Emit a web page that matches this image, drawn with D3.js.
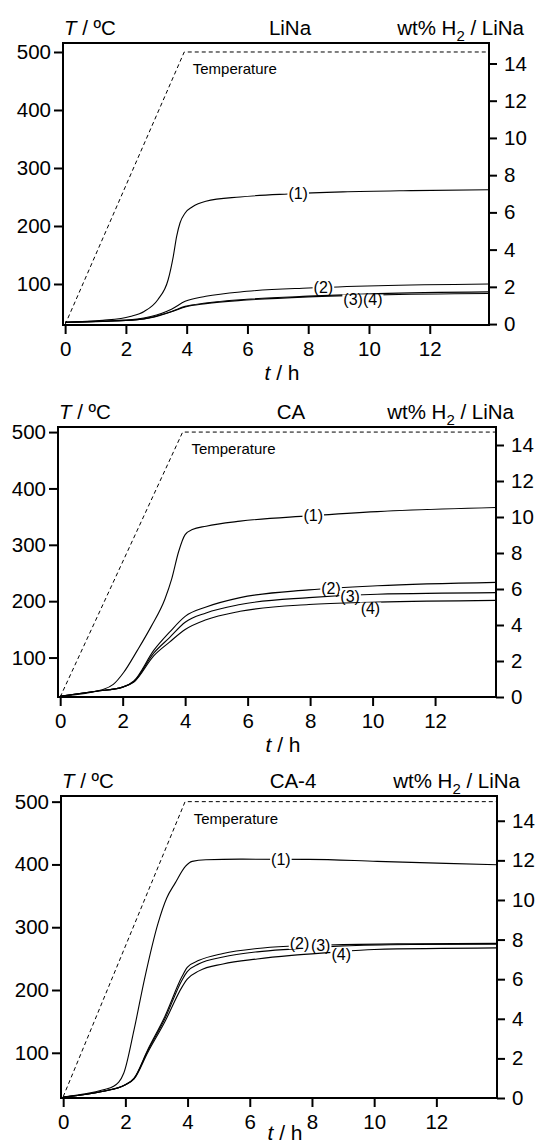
<!DOCTYPE html>
<html lang="en">
<head>
<meta charset="UTF-8">
<script src="https://d3js.org/d3.v7.min.js"></script>
<title>H2 uptake LiNa / CA / CA-4</title>
<style>
  body { margin: 0; background: #fff; }
  svg text { font-family: "Liberation Sans", Arial, Helvetica, sans-serif; fill: #000; }
  .axis path { display: none; }
  .axis line { stroke: #000; stroke-width: 2; }
  .axis text { font-size: 20.5px; }
  .curve { fill: none; stroke: #000; stroke-width: 1.1; }
  .temp { fill: none; stroke: #000; stroke-width: 1; stroke-dasharray: 4 3; }
</style>
</head>
<body>
<div id="chart"></div>
<script>
// tick values
const timeTicks = [0, 2, 4, 6, 8, 10, 12];
const tempTicks = [100, 200, 300, 400, 500];
const wtTicks = [0, 2, 4, 6, 8, 10, 12, 14];

// temperature program (t in h, T in C)
const tempTime = [0, 3.92, 13.95];
const tempValue = [30, 500, 500];

// LiNa, wt% H2 vs t
const linaCurve1 = [[0,0.1],[1.24,0.2],[2.14,0.41],[2.6,0.68],[3.05,1.31],[3.39,2.38],[3.56,3.64],[3.67,4.71],[3.78,5.43],[3.95,5.97],[4.18,6.29],[4.63,6.6],[5.76,6.83],[7.34,6.99],[9.14,7.1],[11.4,7.17],[13.95,7.22]];
const linaCurve2 = [[0,0.1],[1.24,0.16],[2.37,0.27],[2.82,0.41],[3.5,0.8],[3.95,1.22],[4.63,1.49],[5.98,1.76],[8.0,1.94],[10.3,2.06],[13.95,2.15]];
const linaCurve3 = [[0,0.1],[1.24,0.15],[2.37,0.24],[2.82,0.36],[3.5,0.68],[3.95,0.95],[4.63,1.13],[5.98,1.33],[8.0,1.5],[10.3,1.64],[13.95,1.73]];
const linaCurve4 = [[0,0.1],[1.24,0.14],[2.37,0.23],[2.82,0.34],[3.5,0.66],[3.95,0.92],[4.63,1.1],[5.98,1.29],[8.0,1.46],[10.3,1.57],[13.95,1.64]];
const linaLabels = [["(1)",7.67,7.02],["(2)",8.5,1.97],["(3)(4)",9.8,1.3]];

// CA
const caCurve1 = [[0,0.04],[1.37,0.42],[1.7,0.7],[2.03,1.36],[2.47,2.59],[2.91,3.91],[3.35,5.43],[3.57,6.56],[3.79,8.07],[4.0,9.02],[4.23,9.3],[4.67,9.49],[5.76,9.77],[7.96,10.06],[10.15,10.3],[13.95,10.53]];
const caCurve2 = [[0,0.04],[1.15,0.32],[2.0,0.55],[2.36,0.89],[3.0,2.6],[3.5,3.6],[4.0,4.48],[4.67,5.0],[5.76,5.52],[7.96,5.95],[10.15,6.18],[13.95,6.37]];
const caCurve3 = [[0,0.04],[1.15,0.32],[2.0,0.55],[2.36,0.86],[3.0,2.45],[3.5,3.3],[4.0,4.15],[4.67,4.67],[5.76,5.14],[7.96,5.52],[10.15,5.71],[13.95,5.8]];
const caCurve4 = [[0,0.04],[1.15,0.32],[2.0,0.55],[2.36,0.83],[3.0,2.3],[3.5,3.05],[4.0,3.75],[4.67,4.29],[5.76,4.76],[7.96,5.14],[10.15,5.27],[13.95,5.37]];
const caLabels = [["(1)",8.1,10.08],["(2)",8.67,6.04],["(3)",9.28,5.6],["(4)",9.93,4.95]];

// CA-4
const ca4Curve1 = [[0,0.05],[1.29,0.42],[1.62,0.59],[1.95,1.26],[2.28,3.45],[2.61,5.97],[3.05,8.82],[3.33,10.1],[3.6,10.85],[3.93,11.7],[4.15,11.95],[4.59,12.03],[5.69,12.06],[7.9,12.05],[10.1,11.95],[12.3,11.85],[13.95,11.78]];
const ca4Curve2 = [[0,0.05],[1.29,0.34],[2.0,0.67],[2.28,1.0],[2.72,2.44],[3.27,4.12],[3.82,6.13],[3.99,6.6],[4.37,6.95],[5.14,7.3],[6.24,7.55],[7.35,7.67],[9.0,7.75],[11.2,7.79],[13.95,7.81]];
const ca4Curve3 = [[0,0.05],[1.29,0.34],[2.0,0.67],[2.28,0.98],[2.72,2.38],[3.27,4.0],[3.82,5.95],[3.99,6.38],[4.37,6.78],[5.14,7.12],[6.24,7.38],[7.35,7.52],[9.0,7.68],[11.2,7.75],[13.95,7.77]];
const ca4Curve4 = [[0,0.05],[1.29,0.34],[2.0,0.67],[2.28,0.96],[2.72,2.3],[3.27,3.85],[3.82,5.6],[3.99,6.0],[4.37,6.42],[5.14,6.77],[6.24,7.02],[7.35,7.2],[8.5,7.34],[10.0,7.5],[13.95,7.58]];
const ca4Labels = [["(1)",7.0,12.05],["(2)",7.6,7.8],["(3)",8.28,7.7],["(4)",8.94,7.27]];

const panels = [
  {name: "LiNa", curves: [linaCurve1, linaCurve2, linaCurve3, linaCurve4], labels: linaLabels,
   x0: 63, x1: 489, y0: 43, y1: 325, tDom: [29.3, 515.5], wDom: [-0.05, 15.1], titleEnd: 524, xtDy: 55},
  {name: "CA", curves: [caCurve1, caCurve2, caCurve3, caCurve4], labels: caLabels,
   x0: 58, x1: 496, y0: 427, y1: 697, tDom: [30, 509], wDom: [0, 15.0], titleEnd: 514, xtDy: 55},
  {name: "CA-4", curves: [ca4Curve1, ca4Curve2, ca4Curve3, ca4Curve4], labels: ca4Labels,
   x0: 61, x1: 497, y0: 796, y1: 1098, tDom: [28, 509], wDom: [0, 15.25], titleEnd: 520, xtDy: 42}
];

const svg = d3.select("#chart").append("svg")
  .attr("width", 538).attr("height", 1146);

panels.forEach(function (p) {
  const g = svg.append("g");
  const x = d3.scaleLinear().domain([-0.07, 13.95]).range([p.x0, p.x1]);
  const yT = d3.scaleLinear().domain(p.tDom).range([p.y1, p.y0]);
  const yW = d3.scaleLinear().domain(p.wDom).range([p.y1, p.y0]);

  // axes
  g.append("g").attr("class", "axis")
    .attr("transform", "translate(" + p.x0 + ",0)")
    .call(d3.axisLeft(yT).tickValues(tempTicks).tickSize(9).tickPadding(3).tickSizeOuter(0));
  g.append("g").attr("class", "axis")
    .attr("transform", "translate(" + p.x1 + ",0)")
    .call(d3.axisRight(yW).tickValues(wtTicks).tickSize(8).tickPadding(7).tickSizeOuter(0));
  g.append("g").attr("class", "axis")
    .attr("transform", "translate(0," + p.y1 + ")")
    .call(d3.axisBottom(x).tickValues(timeTicks).tickSize(9).tickPadding(7).tickSizeOuter(0));

  // frame
  g.append("rect")
    .attr("x", p.x0).attr("y", p.y0)
    .attr("width", p.x1 - p.x0).attr("height", p.y1 - p.y0)
    .attr("fill", "none").attr("stroke", "#000").attr("stroke-width", 2);

  // temperature program
  const tLine = d3.line().x(function (d) { return x(d[0]); }).y(function (d) { return yT(d[1]); });
  g.append("path").attr("class", "temp")
    .attr("d", tLine(tempTime.map(function (t, i) { return [t, tempValue[i]]; })));
  g.append("text")
    .attr("x", x(4.2)).attr("y", yT(500) + 22)
    .attr("font-size", 15).text("Temperature");

  // uptake curves
  const wLine = d3.line().curve(d3.curveMonotoneX)
    .x(function (d) { return x(d[0]); }).y(function (d) { return yW(d[1]); });
  p.curves.forEach(function (c) {
    g.append("path").attr("class", "curve").attr("d", wLine(c));
  });

  // curve labels with white backing
  p.labels.forEach(function (l) {
    const lt = g.append("text")
      .attr("x", x(l[1])).attr("y", yW(l[2]))
      .attr("dy", "0.35em").attr("text-anchor", "middle")
      .attr("font-size", 16).text(l[0]);
    const b = lt.node().getBBox();
    g.insert("rect", function () { return lt.node(); })
      .attr("x", b.x - 1).attr("y", b.y + 3)
      .attr("width", b.width + 2).attr("height", b.height - 6)
      .attr("fill", "#fff");
  });

  // titles
  const ty = p.y0 - 8;
  const lt = g.append("text").attr("x", p.x0 + 1).attr("y", ty).attr("font-size", 20.5);
  lt.append("tspan").attr("font-style", "italic").text("T");
  lt.append("tspan").text(" / ºC");
  g.append("text").attr("x", (p.x0 + p.x1) / 2 + 14).attr("y", ty)
    .attr("text-anchor", "middle").attr("font-size", 20.5).text(p.name);
  const rt = g.append("text").attr("x", p.titleEnd).attr("y", ty)
    .attr("text-anchor", "end").attr("font-size", 20.5);
  rt.append("tspan").text("wt% H");
  rt.append("tspan").attr("dy", 6).attr("font-size", 15).text("2");
  rt.append("tspan").attr("dy", -6).text(" / LiNa");

  const xt = g.append("text").attr("x", (p.x0 + p.x1) / 2 + 6).attr("y", p.y1 + p.xtDy)
    .attr("text-anchor", "middle").attr("font-size", 21);
  xt.append("tspan").attr("font-style", "italic").text("t");
  xt.append("tspan").text(" / h");
});
</script>
</body>
</html>
